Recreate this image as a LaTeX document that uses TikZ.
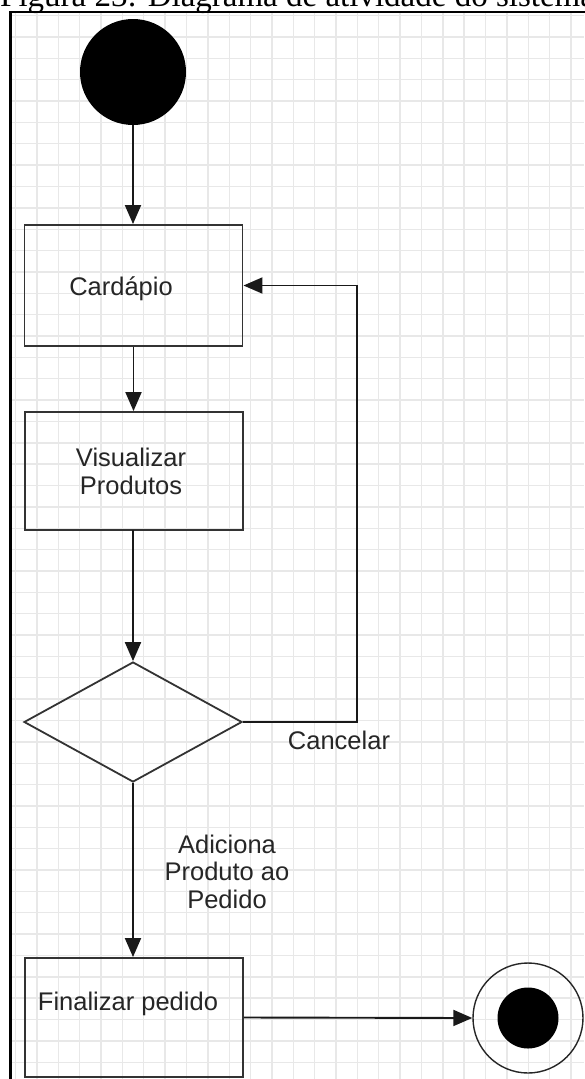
\documentclass[tikz,border=0pt]{standalone}
\usepackage{fontspec}
\setmainfont{Liberation Sans}
\newfontfamily\capfont{Liberation Serif}
\usetikzlibrary{arrows.meta,shapes.geometric}
\begin{document}
\begin{tikzpicture}[x=1pt,y=-1pt,
  box/.style={draw=black!80,line width=1.9pt,rectangle,minimum width=218pt,inner sep=0pt},
  lbl/.style={font=\fontsize{25.5}{27.5}\selectfont,text=black!85,align=center,inner sep=0pt},
  arr/.style={draw=black!90,line width=1.9pt,-{Triangle[length=19pt,width=16pt]}},
  gridline/.style={draw=black!9,line width=1.4pt}]
\useasboundingbox (0,0) rectangle (584,1079);
\fill[white] (0,0) rectangle (584,1079);
% grid
\begin{scope}
\clip (10,12) rectangle (584,1079);
\foreach \i in {0,...,27} \draw[gridline] ({15.6+21.36*\i},12) -- ({15.6+21.36*\i},1079);
\foreach \i in {0,...,50} \draw[gridline] (10,{15.6+21.36*\i}) -- (584,{15.6+21.36*\i});
\end{scope}
% frame
\draw[line width=2.6pt] (10.5,1085) -- (10.5,12) -- (590,12);
% caption
\node[anchor=base west,inner sep=0pt,font=\capfont\fontsize{33}{33}\selectfont] (cap) at (0,6) {Figura 23: Diagrama de atividade do sistema};
% nodes
\node[circle,fill=black,minimum size=106pt,inner sep=0pt] (start) at (133,72) {};
\node[box,minimum height=121pt] (card) at (133.5,285.5) {};
\node[lbl,anchor=base] (cardt) at (121,295) {Cardápio};
\node[box,minimum height=118pt] (vis) at (134,471) {};
\node[lbl] (vist) at (131,471.4) {Visualizar\\Produtos};
\node[diamond,draw=black!80,line width=1.8pt,minimum width=218pt,minimum height=120pt,inner sep=0pt] (dia) at (133,722) {};
\node[box,minimum height=119pt] (fin) at (134,1017.5) {};
\node[lbl,anchor=base] (fint) at (128,1010) {Finalizar pedido};
\node[circle,draw=black!85,line width=1.4pt,minimum size=110pt,inner sep=0pt] (end) at (528,1018) {};
\node[circle,fill=black,minimum size=61pt,inner sep=0pt] (endin) at (end.center) {};
% labels
\node[lbl,anchor=base] (cancel) at (339,749) {Cancelar};
\node[lbl] (add) at (227,871.4) {Adiciona\\Produto ao\\Pedido};
% connectors
\coordinate (turn) at (357,285.5);
\draw[arr] (start.south) -- (start.south |- card.north);
\draw[arr] (card.south) -- (card.south |- vis.north);
\draw[arr] (vis.south) -- (vis.south -| dia.north) -- (dia.north);
\draw[arr] (dia.east) -| (turn) -- (card.east);
\draw[arr] (dia.south) -- (dia.south |- fin.north);
\draw[arr] (fin.east) -- (end.west);
\end{tikzpicture}
\end{document}
